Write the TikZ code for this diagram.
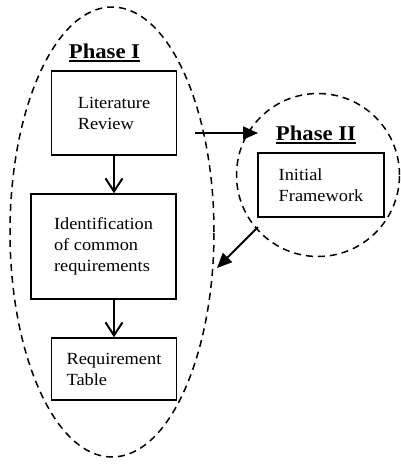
\documentclass[tikz,border=0pt]{standalone}
\usepackage{fontspec}
\setmainfont{Liberation Serif}[FakeStretch=1.08]
\usetikzlibrary{arrows.meta,shapes.geometric}
\begin{document}
\begin{tikzpicture}[x=1pt,y=-1pt,
  box/.style={draw, line width=1.6pt, align=left, inner sep=0pt, font=\fontsize{17}{21}\selectfont},
  grp/.style={draw, line width=1.5pt, dash pattern=on 7pt off 5pt, inner sep=0pt},
  title/.style={font=\bfseries\fontsize{21}{25}\selectfont, inner sep=0pt},
  uline/.style={line width=1.8pt},
  openarr/.style={line width=2pt, -{Straight Barb[length=13pt,width=17pt,line width=2pt]}},
  fillarr/.style={line width=1.8pt, -{Triangle[length=15pt,width=13pt]}}]
\fill[white] (0,0) rectangle (400,464);
\useasboundingbox (0,0) rectangle (400,464);
% groups
\node[grp, ellipse, minimum width=204pt, minimum height=450pt] (ph1) at (112,232) {};
\node[grp, circle, minimum size=163pt] (ph2) at (318,175) {};
% titles
\node[title, anchor=base] (t1) at (104.5,58) {Phase I};
\draw[uline] ([yshift=-3pt]t1.base west) -- ([yshift=-3pt]t1.base east);
\node[title, anchor=base] (t2) at (316,140) {Phase II};
\draw[uline] ([yshift=-3pt]t2.base west) -- ([yshift=-3pt]t2.base east);
% boxes
\node[box, minimum width=125pt, minimum height=84pt] (lit) at (114,113) {Literature\\Review};
\node[box, minimum width=145pt, minimum height=105pt] (ident) at (103.5,246.5) {Identification\\of common\\requirements};
\node[box, minimum width=125pt, minimum height=62pt] (req) at (114,369) {Requirement\\Table};
\node[box, minimum width=126pt, minimum height=64pt] (init) at (321,185) {Initial\\Framework};
% connectors
\draw[openarr] (lit.south) -- (lit.south |- ident.north);
\draw[openarr] (ident.south -| req.north) -- (req.north);
\coordinate (h1) at (195,133);
\coordinate (h2) at (258,133);
\draw[fillarr] (h1) -- (h2);
\coordinate (d1) at (258,227);
\coordinate (d2) at (217,268);
\draw[fillarr] (d1) -- (d2);
\end{tikzpicture}
\end{document}
